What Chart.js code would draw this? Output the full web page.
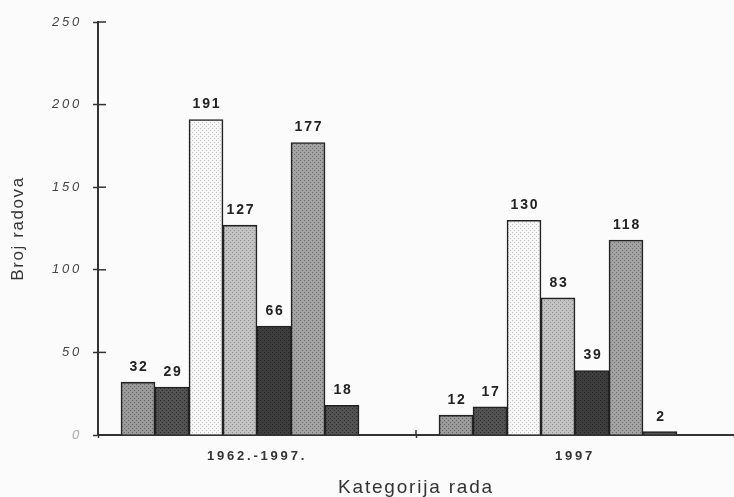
<!DOCTYPE html>
<html>
<head>
<meta charset="utf-8">
<script src="https://cdn.jsdelivr.net/npm/chart.js@4.4.0/dist/chart.umd.min.js"></script>
<style>
  html, body { margin: 0; padding: 0; background: #fbfbfb; }
  #wrap { width: 734px; height: 497px; }
</style>
</head>
<body>
<div id="wrap"><canvas id="chart"></canvas></div>
<script>
// podaci
const categories = ['1962.-1997.', '1997'];
const series1 = [32, 12];
const series2 = [29, 17];
const series3 = [191, 130];
const series4 = [127, 83];
const series5 = [66, 39];
const series6 = [177, 118];
const series7 = [18, 2];
const yTicks = [0, 50, 100, 150, 200, 250];

const FONT = "'Liberation Sans', Arial, sans-serif";

// mali uzorak tockica, kao rasterska ispuna u originalu
function makePattern(bg, fg) {
    const c = document.createElement('canvas');
    c.width = 4; c.height = 4;
    const p = c.getContext('2d');
    p.fillStyle = bg;
    p.fillRect(0, 0, 4, 4);
    p.fillStyle = fg;
    p.fillRect(0, 0, 1, 1);
    p.fillRect(2, 2, 1, 1);
    return p.createPattern(c, 'repeat');
}

const fills = [
    makePattern('#9a9a9a', '#666666'),
    makePattern('#525252', '#2e2e2e'),
    makePattern('#f6f6f6', '#c4c4c4'),
    makePattern('#c2c2c2', '#949494'),
    makePattern('#3e3e3e', '#222222'),
    makePattern('#a2a2a2', '#707070'),
    makePattern('#525252', '#2e2e2e')
];
const allSeries = [series1, series2, series3, series4, series5, series6, series7];

const datasets = allSeries.map((vals, s) => ({
    label: 'S' + (s + 1),
    data: vals,
    backgroundColor: fills[s],
    borderColor: '#222',
    borderWidth: 1.6,
    barThickness: 34
}));
// prazno mjesto na kraju grupe (u originalu su stupci pomaknuti ulijevo)
datasets.push({ label: '', data: categories.map(() => null), barThickness: 34, spacer: true });

// razmak slova: sirok za brojke, drukciji za naslove osi
const spacingPlugin = {
    id: 'spacing',
    beforeDraw(chart) {
        const ctx = chart.ctx;
        ctx.save();
        ctx.fillStyle = '#fbfbfb';
        ctx.fillRect(0, 0, chart.width, chart.height);
        ctx.restore();
        ctx.letterSpacing = '2.8px';
        [['x', '1.8px'], ['y', '1.6px']].forEach(([id, sp]) => {
            const sc = chart.scales[id];
            if (sc._patched) return;
            const orig = sc.drawTitle.bind(sc);
            sc.drawTitle = function () {
                ctx.save();
                ctx.letterSpacing = sp;
                orig();
                ctx.restore();
            };
            sc._patched = true;
        });
    }
};

// crtice koje prelaze preko osi
const innerTicks = {
    id: 'innerTicks',
    afterDraw(chart) {
        const { ctx, scales: { x, y } } = chart;
        ctx.save();
        ctx.strokeStyle = '#333';
        ctx.lineWidth = 1.5;
        y.ticks.forEach((t, i) => {
            const py = y.getPixelForTick(i);
            ctx.beginPath();
            ctx.moveTo(x.left, py);
            ctx.lineTo(x.left + 8, py);
            ctx.stroke();
        });
        const mid = (x.getPixelForTick(0) + x.getPixelForTick(1)) / 2;
        ctx.beginPath();
        ctx.moveTo(mid, y.bottom);
        ctx.lineTo(mid, y.bottom - 5);
        ctx.stroke();
        ctx.restore();
    }
};

const valueLabels = {
    id: 'valueLabels',
    afterDatasetsDraw(chart) {
        const ctx = chart.ctx;
        ctx.save();
        ctx.font = 'bold 14px ' + FONT;
        ctx.fillStyle = '#222';
        ctx.textAlign = 'center';
        ctx.textBaseline = 'bottom';
        ctx.letterSpacing = '1.8px';
        chart.data.datasets.forEach((ds, di) => {
            if (ds.spacer) return;
            const meta = chart.getDatasetMeta(di);
            meta.data.forEach((bar, i) => {
                ctx.fillText(String(ds.data[i]), bar.x + 1, bar.y - 8);
            });
        });
        ctx.restore();
    }
};

new Chart(document.getElementById('chart'), {
    type: 'bar',
    data: { labels: categories, datasets },
    options: {
        responsive: true,
        maintainAspectRatio: false,
        animation: false,
        layout: { padding: { top: 22, right: 0, left: 0, bottom: 0 } },
        plugins: {
            legend: { display: false },
            tooltip: { enabled: false }
        },
        scales: {
            x: {
                afterFit(scale) { scale.height = 62; },
                ticks: {
                    autoSkip: false,
                    maxRotation: 0,
                    padding: 11,
                    color: '#333',
                    font: { family: FONT, size: 13, weight: 'bold' }
                },
                grid: {
                    drawOnChartArea: false,
                    offset: true,
                    tickLength: 3,
                    tickWidth: 1.5,
                    tickColor: '#333'
                },
                border: { color: '#333', width: 2 },
                title: {
                    display: true,
                    text: 'Kategorija rada',
                    color: '#333',
                    font: { family: FONT, size: 19 },
                    padding: { top: 0, bottom: -2 }
                }
            },
            y: {
                min: 0,
                max: 250,
                afterBuildTicks(scale) {
                    scale.ticks = yTicks.map(v => ({ value: v }));
                },
                afterFit(scale) { scale.width = 98; },
                ticks: {
                    padding: 11,
                    color: c => c.tick && c.tick.value === 0 ? '#aaa' : '#444',
                    font: { family: FONT, size: 13, style: 'italic' }
                },
                grid: {
                    drawOnChartArea: false,
                    tickLength: 5,
                    tickWidth: 1.5,
                    tickColor: '#333'
                },
                border: { color: '#333', width: 2 },
                title: {
                    display: true,
                    text: 'Broj radova',
                    color: '#333',
                    font: { family: FONT, size: 17 },
                    padding: { top: 8, bottom: 0 }
                }
            }
        }
    },
    plugins: [spacingPlugin, innerTicks, valueLabels]
});
</script>
</body>
</html>
